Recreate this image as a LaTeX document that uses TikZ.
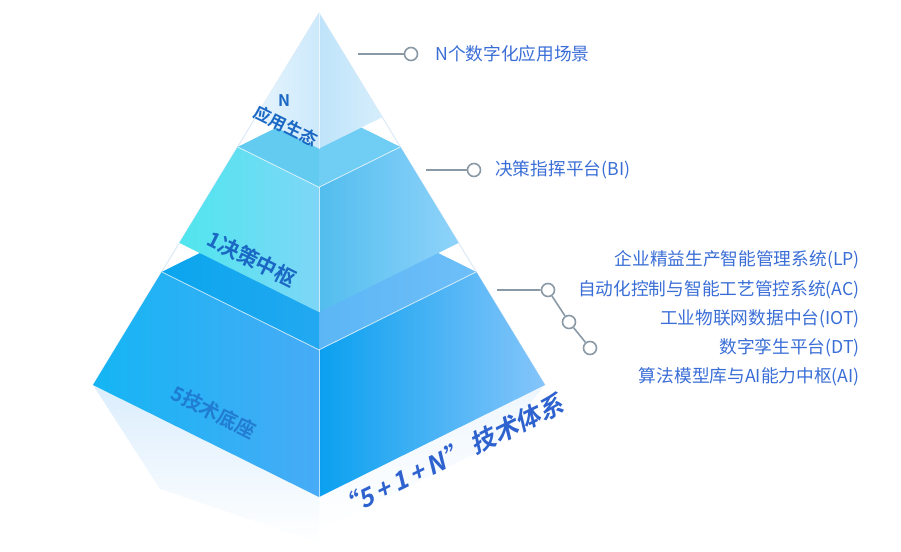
\documentclass[tikz,border=0pt]{standalone}
\usepackage{fontspec}
\setmainfont{Noto Sans CJK SC}
\newfontfamily\boldcjk{Noto Sans CJK SC Bold}
\newfontfamily\slantfont{Noto Sans CJK SC Bold}[FakeSlant=0.22]
\usetikzlibrary{calc}

\definecolor{calloutline}{HTML}{8A99A6}
\definecolor{callouttext}{HTML}{3A6ED6}
\definecolor{tiertext}{HTML}{1A68C4}
\definecolor{titleblue}{HTML}{2E63CF}
\definecolor{frameline}{HTML}{DCE9F7}
% face colours
\definecolor{botLa}{HTML}{14B5F4}
\definecolor{botLb}{HTML}{48ABF6}
\definecolor{botRa}{HTML}{0AA0EF}
\definecolor{botRb}{HTML}{85C5FA}
\definecolor{botTa}{HTML}{0AA6EE}
\definecolor{botTb}{HTML}{22A8F0}
\definecolor{botTc}{HTML}{5CB6F5}
\definecolor{botTd}{HTML}{6EBFF8}
\definecolor{midLa}{HTML}{50E6EE}
\definecolor{midLb}{HTML}{7ED6F7}
\definecolor{midRa}{HTML}{52BDEE}
\definecolor{midRb}{HTML}{8FD3FA}
\definecolor{midTa}{HTML}{63CBF0}
\definecolor{midTb}{HTML}{70CDF4}
\definecolor{topLa}{HTML}{E6F4FD}
\definecolor{topLb}{HTML}{CCE9FB}
\definecolor{topRa}{HTML}{BFE3FA}
\definecolor{topRb}{HTML}{D6EEFC}
\definecolor{mirror}{HTML}{CFE7FC}

\tikzset{
  callout/.style={draw=calloutline, line width=1.6pt},
  knob/.style={circle, draw=calloutline, line width=1.6pt, fill=white, minimum size=13pt, inner sep=0pt},
  itemtext/.style={text=callouttext, font=\fontsize{17.7}{20}\selectfont, inner sep=0pt},
  tierlabel/.style={text=tiertext, font=\boldcjk\fontsize{20}{22}\selectfont, rotate=-26.5, inner sep=0pt},
  ridge/.style={draw=white, draw opacity=0.7, line width=0.8pt},
}

\begin{document}
\begin{tikzpicture}[x=1pt,y=1pt]
  \useasboundingbox (0,0) rectangle (901,551);

  % pyramid frame
  \coordinate (apex) at (319,538);
  \coordinate (baseL) at (93,166);
  \coordinate (baseF) at (319,54);
  \coordinate (baseR) at (545,166);
  \coordinate (baseB) at (319,278);

  \foreach \n/\t in {topB/0.28, midT/0.36, midB/0.618, botT/0.696}
  {
    \coordinate (\n-L) at ($(apex)!\t!(baseL)$);
    \coordinate (\n-F) at ($(apex)!\t!(baseF)$);
    \coordinate (\n-R) at ($(apex)!\t!(baseR)$);
    \coordinate (\n-B) at ($(apex)!\t!(baseB)$);
  }

  % reflection
  \begin{scope}
    \shade[top color=mirror, bottom color=white, opacity=0.75]
      (baseL) -- (baseF) -- (319,8) -- (160,62) -- cycle;
    \shade[top color=mirror, bottom color=white, opacity=0.35]
      (baseF) -- (baseR) -- (500,110) -- (319,20) -- cycle;
  \end{scope}

  \draw[frameline, line width=1pt] (baseL) -- (apex) -- (baseR);

  % bottom tier
  \begin{scope}
    \shade[left color=botLa, right color=botLb] (botT-L) -- (botT-F) -- (baseF) -- (baseL) -- cycle;
    \shade[left color=botRa, right color=botRb] (botT-F) -- (botT-R) -- (baseR) -- (baseF) -- cycle;
    \shade[left color=botTa, right color=botTb] (botT-L) -- (botT-B) -- (botT-F) -- cycle;
    \shade[left color=botTc, right color=botTd] (botT-B) -- (botT-R) -- (botT-F) -- cycle;
    \draw[ridge] (botT-L) -- (botT-F) -- (botT-R);
    \draw[ridge] (botT-F) -- (baseF);
  \end{scope}

  % middle tier
  \begin{scope}
    \shade[left color=midLa, right color=midLb] (midT-L) -- (midT-F) -- (midB-F) -- (midB-L) -- cycle;
    \shade[left color=midRa, right color=midRb] (midT-F) -- (midT-R) -- (midB-R) -- (midB-F) -- cycle;
    \fill[midTa] (midT-L) -- (midT-B) -- (midT-F) -- cycle;
    \fill[midTb] (midT-B) -- (midT-R) -- (midT-F) -- cycle;
    \draw[ridge] (midT-L) -- (midT-F) -- (midT-R);
    \draw[ridge] (midT-F) -- (midB-F);
  \end{scope}

  % top tier
  \begin{scope}
    \shade[left color=topLa, right color=topLb] (apex) -- (topB-L) -- (topB-F) -- cycle;
    \shade[left color=topRa, right color=topRb] (apex) -- (topB-F) -- (topB-R) -- cycle;
    \draw[ridge] (apex) -- (topB-F);
  \end{scope}

  % tier labels
  \node[tierlabel, text opacity=0.7] (baseLabel) at (214,139) {5技术底座};
  \node[tierlabel, font=\boldcjk\fontsize{21}{22}\selectfont] (midLabel) at (252,292) {1决策中枢};
  \node[tierlabel, font=\boldcjk\fontsize{17}{18}\selectfont] (topLabel) at (286,425) {应用生态};
  \node[text=tiertext, font=\boldcjk\fontsize{16}{18}\selectfont, inner sep=0pt] (topN) at (284,450) {N};

  \node[rotate=26, text=titleblue, font=\slantfont\fontsize{25}{27}\selectfont, inner sep=0pt]
    (title) at (449,94) {“5\,+\,1\,+\,N”\ 技术体系};

  % callouts
  \node[knob] (k1) at (411,497) {};
  \coordinate (s1) at (358,497);
  \draw[callout] (s1) -- (k1);
  \node[itemtext, anchor=west] (t1) at (435,497) {N个数字化应用场景};

  \node[knob] (k2) at (474,381) {};
  \coordinate (s2) at (426,381);
  \draw[callout] (s2) -- (k2);
  \node[itemtext, anchor=west] (t2) at (495,381) {决策指挥平台(BI)};

  \node[knob] (k3) at (548,261) {};
  \node[knob] (k4) at (569,229) {};
  \node[knob] (k5) at (590,203) {};
  \coordinate (s3) at (497,261);
  \draw[callout] (s3) -- (k3) -- (k4) -- (k5);

  \foreach \txt [count=\i] in {企业精益生产智能管理系统(LP), 自动化控制与智能工艺管控系统(AC),
    工业物联网数据中台(IOT), 数字孪生平台(DT), 算法模型库与AI能力中枢(AI)}
  {
    \node[itemtext, anchor=east] (item\i) at (860,{291-29.3*(\i-1)}) {\txt};
  }
\end{tikzpicture}
\end{document}
